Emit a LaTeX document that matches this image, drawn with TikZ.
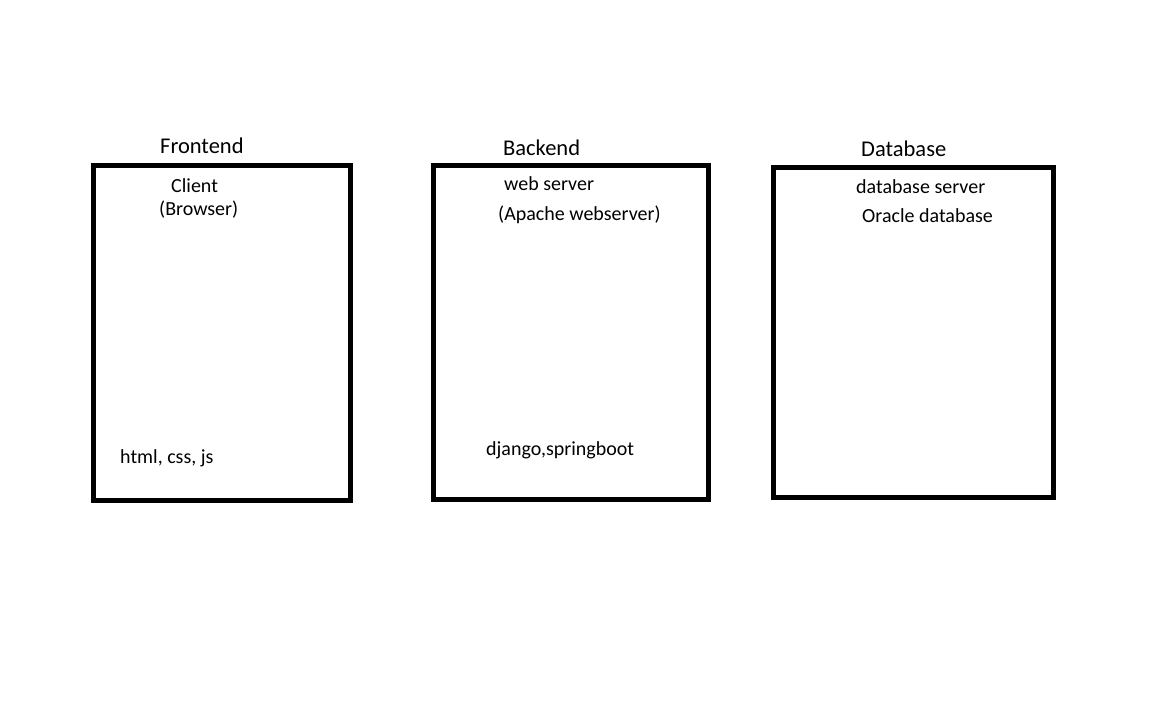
\documentclass[tikz,border=0pt]{standalone}
\usepackage{fontspec}
\setmainfont{Carlito}
\tikzset{
  tier/.style={draw=black, line width=5pt},
  title/.style={anchor=base west, inner sep=0pt, font=\fontsize{22.5}{26}\selectfont},
  lbl/.style={anchor=base west, inner sep=0pt, font=\fontsize{20}{24}\selectfont}
}
\begin{document}
\begin{tikzpicture}[x=1pt,y=-1pt]
\useasboundingbox[fill=white] (0,0) rectangle (1152,720);
% boxes
\draw[tier] (93.5,165) rectangle (350.5,500);
\draw[tier] (433.5,165) rectangle (708.5,499);
\draw[tier] (773.5,167) rectangle (1053.5,497);
% titles
\node[title] (tfront) at (160,153) {Frontend};
\node[title] (tback) at (503,155) {Backend};
\node[title] (tdb) at (861,156) {Database};
% frontend labels
\node[lbl] (client) at (171,192) {Client};
\node[lbl] (browser) at (159,215) {(Browser)};
\node[lbl] (html) at (120,463) {html, css, js};
% backend labels
\node[lbl] (web) at (504,190) {web server};
\node[lbl] (apache) at (498,220) {(Apache webserver)};
\node[lbl] (django) at (486,455) {django,springboot};
% database labels
\node[lbl] (dbserver) at (856,193) {database server};
\node[lbl] (oracle) at (862,222) {Oracle database};
\end{tikzpicture}
\end{document}
